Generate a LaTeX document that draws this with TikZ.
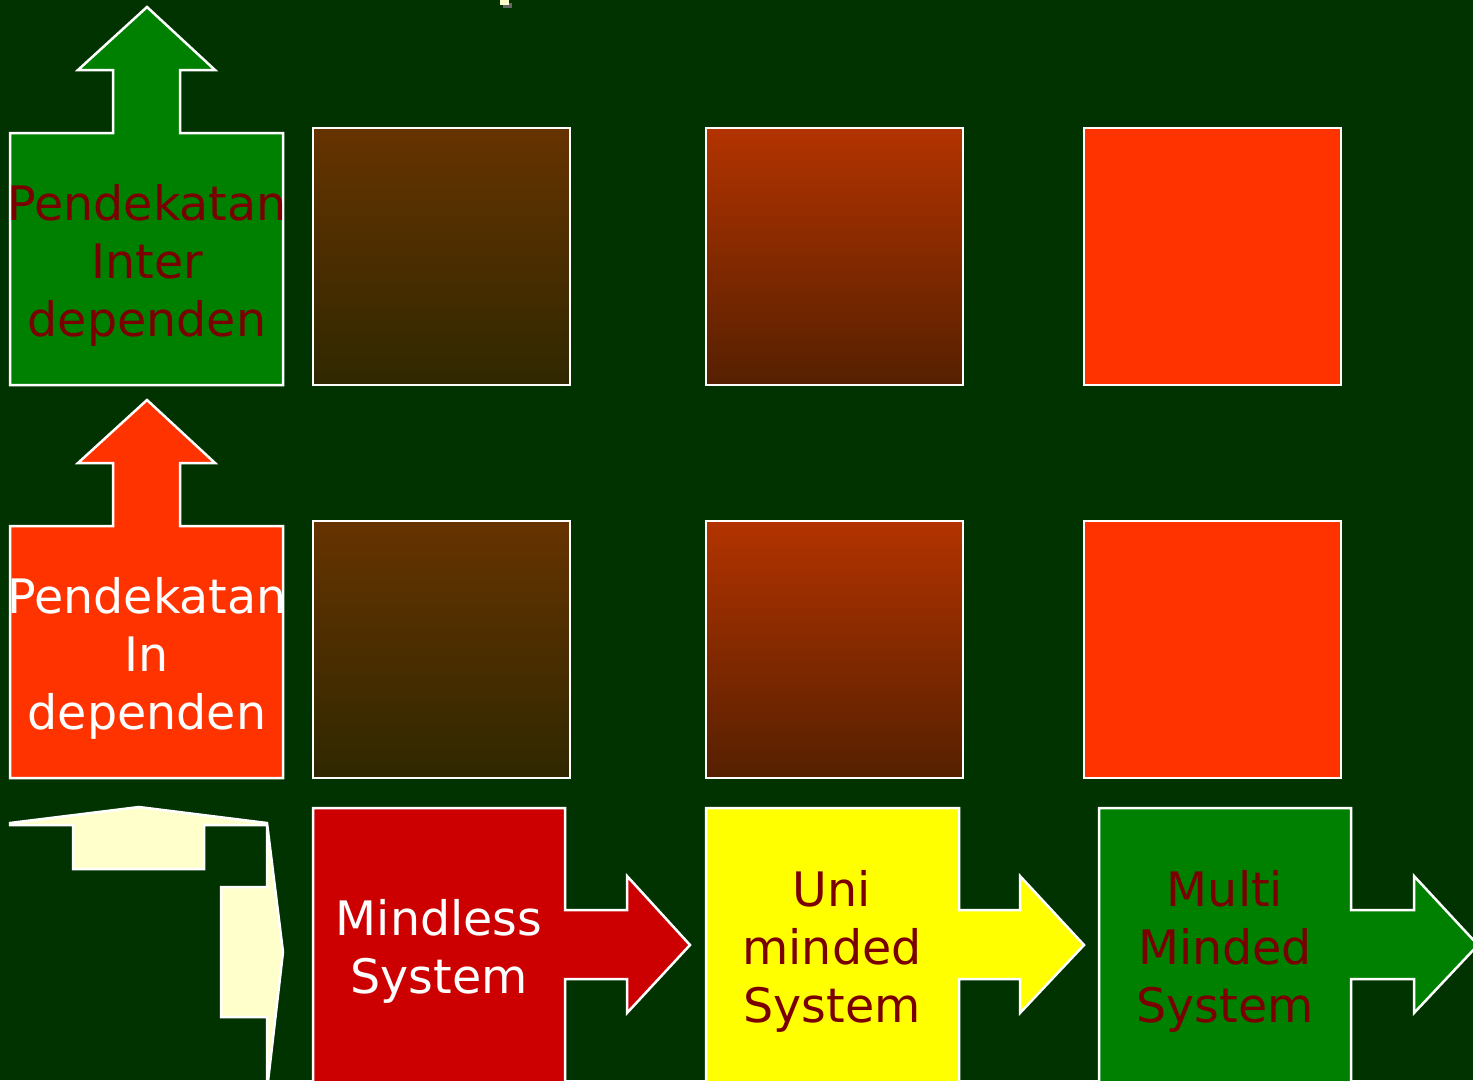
\documentclass[tikz,border=0pt]{standalone}
\usepackage{fontspec}
\setmainfont{DejaVu Sans}
\definecolor{bg}{HTML}{003300}
\definecolor{grn}{HTML}{008000}
\definecolor{org}{HTML}{FF3300}
\definecolor{rd}{HTML}{CC0000}
\definecolor{yl}{HTML}{FFFF00}
\definecolor{cream}{HTML}{FFFFCC}
\definecolor{txtred}{HTML}{7A0000}
\definecolor{brtop}{HTML}{663300}
\definecolor{brbot}{HTML}{302800}
\definecolor{rbtop}{HTML}{B33300}
\definecolor{rbbot}{HTML}{552000}
\begin{document}
\begin{tikzpicture}[x=1pt,y=-1pt,
  boxshape/.style={draw=white,line width=2.5pt,line join=miter},
  lbl/.style={align=center,font=\fontsize{47.5}{58}\selectfont,inner sep=0pt}]
\useasboundingbox (0,0) rectangle (1473,1080);
\fill[bg] (0,0) rectangle (1473,1080);
\clip (0,0) rectangle (1473,1080);
% title fragment
\fill[black!60] (503,3) rectangle (512,8);
\fill[cream] (500,0) rectangle (509,5);
% row 1
\filldraw[boxshape,fill=grn] (10,385) -- (10,133) -- (113,133) -- (113,70) -- (78,70) -- (147,7) -- (215,70) -- (180,70) -- (180,133) -- (283,133) -- (283,385) -- cycle;
\node[lbl,text=txtred] (inter) at (147,265) {Pendekatan\\Inter\\dependen};
\draw[boxshape,top color=brtop,bottom color=brbot] (313,128) rectangle (570,385);
\draw[boxshape,top color=rbtop,bottom color=rbbot] (706,128) rectangle (963,385);
\filldraw[boxshape,fill=org] (1084,128) rectangle (1341,385);
% row 2
\filldraw[boxshape,fill=org] (10,778) -- (10,526) -- (113,526) -- (113,463) -- (78,463) -- (147,400) -- (215,463) -- (180,463) -- (180,526) -- (283,526) -- (283,778) -- cycle;
\node[lbl,text=white] (indep) at (147,658) {Pendekatan\\In\\dependen};
\draw[boxshape,top color=brtop,bottom color=brbot] (313,521) rectangle (570,778);
\draw[boxshape,top color=rbtop,bottom color=rbbot] (706,521) rectangle (963,778);
\filldraw[boxshape,fill=org] (1084,521) rectangle (1341,778);
% row 3
\filldraw[boxshape,fill=cream] (10,823) -- (139,807) -- (267,823) -- (283,952) -- (267,1090) -- (267,1017) -- (221,1017) -- (221,887) -- (267,887) -- (267,825) -- (204,825) -- (204,869) -- (73,869) -- (73,825) -- (10,825) -- cycle;
\filldraw[boxshape,fill=rd] (313,1090) -- (313,808) -- (565,808) -- (565,910) -- (627,910) -- (627,876) -- (690,945) -- (627,1013) -- (627,979) -- (565,979) -- (565,1090) -- cycle;
\node[lbl,text=white] (mindless) at (439,951) {Mindless\\System};
\filldraw[boxshape,fill=yl] (706,1090) -- (706,808) -- (959,808) -- (959,910) -- (1020,910) -- (1020,876) -- (1084,945) -- (1020,1013) -- (1020,979) -- (959,979) -- (959,1090) -- cycle;
\node[lbl,text=txtred] (uni) at (832,951) {Uni\\minded\\System};
\filldraw[boxshape,fill=grn] (1099,1090) -- (1099,808) -- (1351,808) -- (1351,910) -- (1414,910) -- (1414,876) -- (1478,945) -- (1414,1013) -- (1414,979) -- (1351,979) -- (1351,1090) -- cycle;
\node[lbl,text=txtred] (multi) at (1225,951) {Multi\\Minded\\System};
\end{tikzpicture}
\end{document}
